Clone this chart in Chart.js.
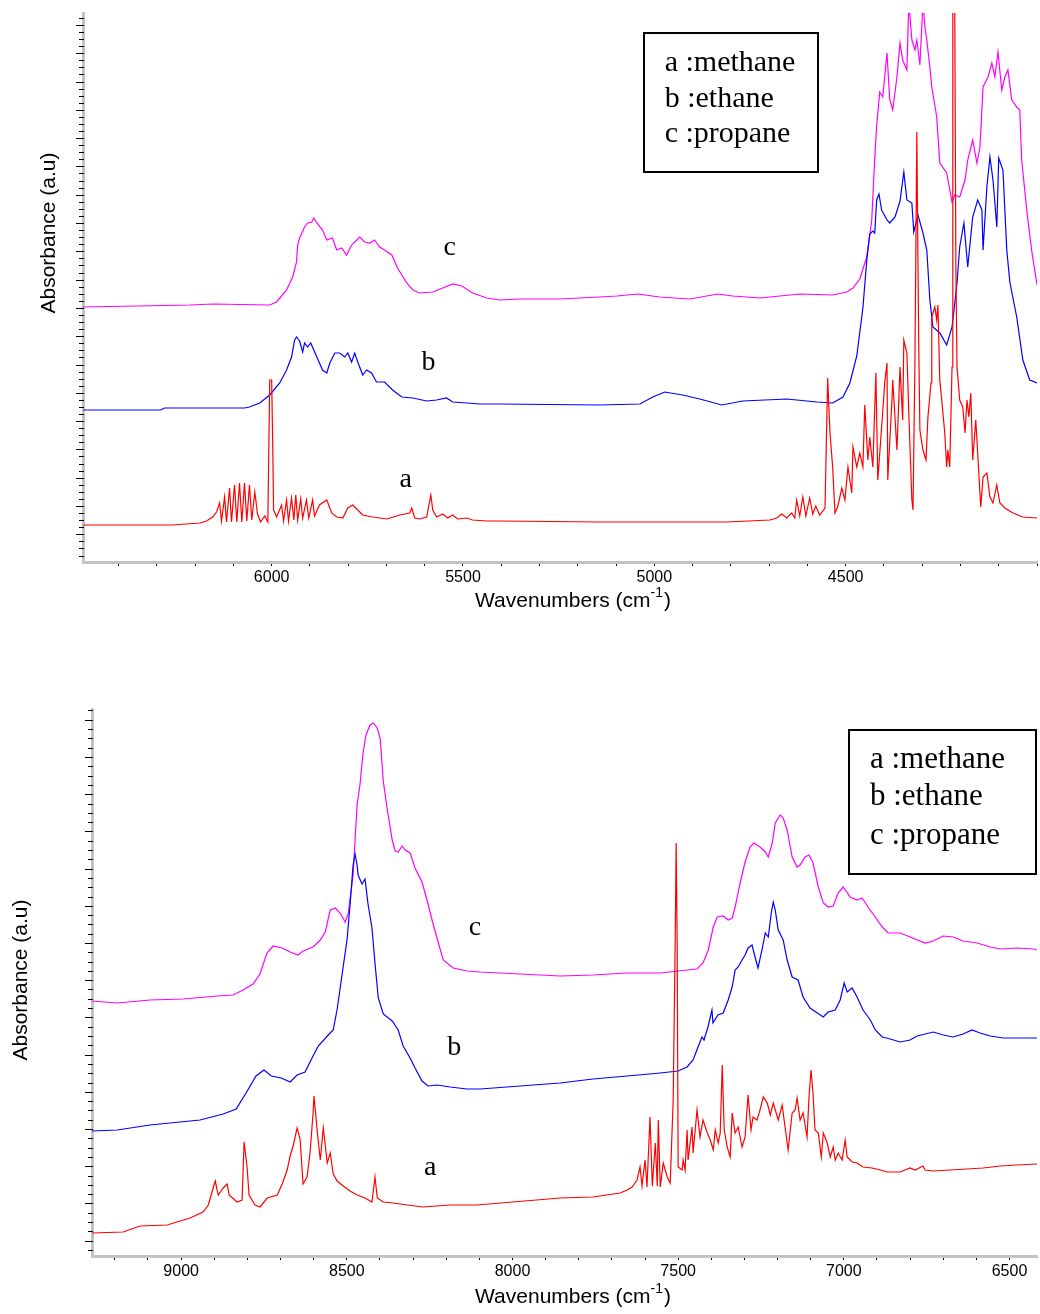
<!DOCTYPE html>
<html>
<head>
<meta charset="utf-8">
<script src="https://cdn.jsdelivr.net/npm/chart.js@4/dist/chart.umd.min.js"></script>
<style>
  html, body { margin: 0; padding: 0; background: #fff; }
  #wrap { position: relative; width: 1040px; height: 1314px; }
  #topBox { position: absolute; left: 0; top: 0; }
  #bottomBox { position: absolute; left: 0; top: 650px; }
</style>
</head>
<body>
<div id="wrap">
  <div id="topBox"><canvas id="chartTop" width="1040" height="650"></canvas></div>
  <div id="bottomBox"><canvas id="chartBottom" width="1040" height="664"></canvas></div>
</div>
<script>
// wavenumbers (cm-1) and absorbance (a.u)

// ---- upper panel, 6500 - 4000 cm-1 ----
const topMethaneX = [
  6494, 6259, 6188, 6170, 6154, 6144, 6136, 6131, 6123, 6118,
  6110, 6105, 6097, 6091, 6084, 6078, 6071, 6065, 6058, 6052,
  6044, 6037, 6029, 6018, 6010, 6005, 6000, 5997, 5995, 5987,
  5974, 5969, 5961, 5956, 5948, 5942, 5937, 5932, 5924, 5919,
  5909, 5903, 5893, 5888, 5875, 5856, 5843, 5830, 5814, 5801,
  5788, 5775, 5762, 5736, 5699, 5665, 5639, 5634, 5626, 5613,
  5595, 5584, 5579, 5569, 5553, 5540, 5527, 5514, 5490, 5475,
  5438, 5404, 5143, 4811, 4698, 4680, 4667, 4654, 4641, 4633,
  4628, 4620, 4612, 4604, 4594, 4586, 4578, 4568, 4554, 4547,
  4541, 4534, 4528, 4521, 4510, 4502, 4494, 4484, 4481, 4471,
  4463, 4455, 4450, 4442, 4437, 4429, 4421, 4416, 4406, 4398,
  4392, 4390, 4379, 4377, 4366, 4358, 4351, 4348, 4340, 4335,
  4327, 4324, 4319, 4314, 4311, 4309, 4306, 4298, 4290, 4285,
  4277, 4275, 4267, 4262, 4259, 4254, 4249, 4241, 4236, 4233,
  4228, 4222, 4220, 4215, 4212, 4209, 4202, 4194, 4188, 4183,
  4178, 4173, 4168, 4160, 4155, 4147, 4141, 4131, 4123, 4115,
  4105, 4097, 4084, 4063, 4037, 4000
];
const topMethaneY = [
  0.37, 0.37, 0.39, 0.41, 0.45, 0.50, 0.59, 0.41, 0.65, 0.40,
  0.74, 0.40, 0.77, 0.40, 0.79, 0.40, 0.79, 0.41, 0.77, 0.42,
  0.70, 0.48, 0.40, 0.46, 0.40, 1.82, 1.82, 1.12, 0.52, 0.45,
  0.57, 0.41, 0.62, 0.41, 0.64, 0.42, 0.67, 0.42, 0.63, 0.44,
  0.62, 0.44, 0.62, 0.46, 0.57, 0.62, 0.49, 0.45, 0.44, 0.54,
  0.57, 0.52, 0.47, 0.45, 0.43, 0.47, 0.49, 0.54, 0.44, 0.43,
  0.45, 0.67, 0.52, 0.45, 0.48, 0.44, 0.47, 0.43, 0.44, 0.42,
  0.41, 0.41, 0.40, 0.40, 0.42, 0.44, 0.48, 0.44, 0.49, 0.44,
  0.62, 0.46, 0.65, 0.46, 0.64, 0.48, 0.56, 0.47, 0.54, 1.84,
  1.29, 0.95, 0.49, 0.55, 0.74, 0.62, 0.95, 0.69, 1.15, 0.95,
  1.09, 0.95, 1.57, 1.02, 1.25, 0.95, 1.89, 0.82, 1.35, 1.79,
  1.99, 0.82, 1.62, 1.82, 1.12, 1.95, 1.42, 2.22, 2.09, 1.49,
  0.62, 0.52, 1.99, 4.30, 2.95, 2.15, 1.32, 1.12, 1.02, 1.45,
  1.79, 2.45, 2.55, 2.42, 2.57, 1.82, 1.62, 1.29, 0.95, 1.12,
  0.95, 1.95, 5.60, 5.60, 2.95, 1.95, 1.62, 1.55, 1.29, 1.62,
  1.45, 1.69, 1.02, 1.42, 1.09, 0.55, 0.85, 0.89, 0.65, 0.59,
  0.77, 0.59, 0.54, 0.49, 0.45, 0.44
];

const topEthaneX = [
  6494, 6290, 6280, 6071, 6058, 6031, 6005, 5979, 5961, 5948,
  5940, 5935, 5927, 5919, 5914, 5906, 5898, 5882, 5867, 5856,
  5848, 5835, 5822, 5809, 5801, 5791, 5783, 5775, 5762, 5752,
  5739, 5726, 5705, 5684, 5660, 5631, 5595, 5569, 5543, 5527,
  5490, 5456, 5404, 5143, 5038, 5004, 4973, 4926, 4881, 4824,
  4769, 4654, 4575, 4534, 4507, 4489, 4471, 4455, 4445, 4437,
  4429, 4424, 4419, 4413, 4406, 4392, 4385, 4371, 4358, 4348,
  4340, 4327, 4322, 4311, 4298, 4288, 4280, 4272, 4254, 4236,
  4222, 4209, 4202, 4191, 4181, 4168, 4155, 4144, 4141, 4131,
  4123, 4115, 4105, 4100, 4089, 4079, 4071, 4053, 4037, 4019,
  4000
];
const topEthaneY = [
  1.52, 1.52, 1.54, 1.54, 1.55, 1.59, 1.67, 1.79, 1.92, 2.05,
  2.22, 2.25, 2.21, 2.10, 2.19, 2.15, 2.19, 2.05, 1.92, 1.89,
  1.99, 2.09, 2.09, 2.05, 2.09, 2.00, 2.09, 2.00, 1.87, 1.92,
  1.89, 1.80, 1.80, 1.72, 1.65, 1.64, 1.61, 1.62, 1.64, 1.60,
  1.59, 1.58, 1.58, 1.57, 1.58, 1.65, 1.70, 1.67, 1.63, 1.57,
  1.61, 1.63, 1.60, 1.59, 1.65, 1.79, 2.06, 2.54, 3.01, 3.28,
  3.31, 3.29, 3.62, 3.68, 3.52, 3.42, 3.39, 3.45, 3.61, 3.90,
  3.62, 3.59, 3.30, 3.47, 3.29, 3.12, 2.62, 2.35, 2.29, 2.17,
  2.35, 2.79, 3.15, 3.39, 2.95, 3.45, 3.62, 3.52, 3.12, 3.75,
  4.05, 3.82, 3.35, 4.04, 3.92, 3.12, 2.80, 2.45, 2.02, 1.82,
  1.79
];

const topPropaneX = [
  6494, 6214, 6154, 6005, 5987, 5961, 5945, 5935, 5932, 5927,
  5914, 5906, 5895, 5890, 5882, 5867, 5856, 5841, 5830, 5817,
  5804, 5791, 5770, 5757, 5744, 5731, 5718, 5705, 5686, 5671,
  5647, 5631, 5613, 5579, 5553, 5527, 5503, 5475, 5438, 5404,
  5352, 5247, 5143, 5098, 5043, 4986, 4907, 4834, 4795, 4724,
  4620, 4534, 4497, 4481, 4463, 4445, 4432, 4424, 4419, 4411,
  4403, 4392, 4385, 4377, 4366, 4358, 4351, 4340, 4335, 4327,
  4319, 4314, 4306, 4298, 4293, 4288, 4280, 4275, 4262, 4254,
  4236, 4222, 4215, 4202, 4188, 4181, 4168, 4157, 4149, 4141,
  4128, 4118, 4110, 4102, 4092, 4084, 4076, 4066, 4053, 4045,
  4040, 4026, 4013, 4000
];
const topPropaneY = [
  2.55, 2.57, 2.58, 2.57, 2.60, 2.72, 2.85, 3.00, 3.17, 3.24,
  3.35, 3.39, 3.40, 3.44, 3.39, 3.32, 3.22, 3.24, 3.12, 3.14,
  3.07, 3.17, 3.25, 3.20, 3.19, 3.22, 3.15, 3.12, 3.07, 2.94,
  2.79, 2.72, 2.69, 2.70, 2.74, 2.78, 2.76, 2.69, 2.64, 2.62,
  2.63, 2.63, 2.65, 2.66, 2.68, 2.65, 2.63, 2.68, 2.66, 2.64,
  2.68, 2.67, 2.70, 2.74, 2.83, 3.05, 3.41, 4.04, 4.36, 4.70,
  4.65, 5.09, 4.63, 4.52, 4.85, 5.19, 5.02, 4.92, 5.60, 5.22,
  5.12, 5.22, 4.97, 5.60, 5.35, 5.22, 4.95, 4.75, 4.45, 3.99,
  3.89, 3.60, 3.67, 3.65, 3.82, 4.02, 4.22, 3.99, 4.15, 4.75,
  4.85, 4.99, 4.85, 5.10, 4.72, 4.85, 4.92, 4.62, 4.55, 4.52,
  4.02, 3.49, 3.09, 2.77
];

// ---- lower panel, 9270 - 6420 cm-1 ----
const bottomMethaneX = [
  9269, 9175, 9124, 9042, 9003, 8973, 8934, 8918, 8906, 8897,
  8888, 8873, 8861, 8855, 8831, 8816, 8810, 8801, 8795, 8777,
  8762, 8740, 8710, 8695, 8680, 8671, 8662, 8650, 8641, 8632,
  8620, 8611, 8602, 8599, 8589, 8580, 8571, 8559, 8550, 8541,
  8529, 8511, 8490, 8469, 8445, 8424, 8415, 8408, 8390, 8360,
  8318, 8270, 8188, 8107, 7856, 7757, 7675, 7654, 7639, 7624,
  7615, 7609, 7600, 7594, 7585, 7578, 7569, 7563, 7560, 7554,
  7545, 7533, 7524, 7515, 7509, 7506, 7503, 7500, 7488, 7485,
  7479, 7473, 7470, 7458, 7455, 7443, 7434, 7425, 7412, 7403,
  7394, 7388, 7379, 7373, 7367, 7361, 7352, 7343, 7337, 7328,
  7319, 7307, 7298, 7289, 7280, 7274, 7262, 7253, 7243, 7231,
  7222, 7213, 7198, 7186, 7177, 7168, 7156, 7147, 7141, 7132,
  7123, 7111, 7105, 7099, 7093, 7087, 7077, 7068, 7062, 7050,
  7041, 7032, 7026, 7017, 7005, 6996, 6990, 6975, 6960, 6942,
  6915, 6890, 6869, 6830, 6800, 6785, 6761, 6755, 6730, 6679,
  6628, 6580, 6528, 6477, 6417
];
const bottomMethaneY = [
  0.23, 0.24, 0.30, 0.31, 0.35, 0.38, 0.44, 0.51, 0.65, 0.75,
  0.61, 0.68, 0.72, 0.61, 0.54, 0.56, 1.14, 0.89, 0.61, 0.51,
  0.49, 0.58, 0.61, 0.72, 0.86, 1.00, 1.10, 1.28, 1.17, 0.72,
  0.79, 1.03, 1.42, 1.60, 1.24, 0.96, 1.28, 0.93, 1.03, 0.82,
  0.75, 0.70, 0.65, 0.61, 0.58, 0.54, 0.79, 0.58, 0.54, 0.53,
  0.51, 0.49, 0.51, 0.51, 0.58, 0.59, 0.63, 0.66, 0.69, 0.76,
  0.89, 0.70, 0.96, 0.69, 1.39, 0.70, 1.13, 0.70, 1.36, 0.69,
  0.93, 0.79, 0.73, 1.56, 3.13, 4.13, 3.13, 0.89, 0.86, 0.96,
  0.86, 1.26, 0.96, 1.29, 1.03, 1.46, 1.19, 1.36, 1.23, 1.16,
  1.06, 1.26, 1.13, 1.23, 1.91, 1.26, 1.09, 0.99, 1.43, 1.23,
  1.29, 1.09, 1.19, 1.61, 1.26, 1.39, 1.36, 1.46, 1.59, 1.53,
  1.41, 1.53, 1.36, 1.51, 1.28, 1.06, 1.43, 1.46, 1.58, 1.36,
  1.43, 1.19, 1.59, 1.86, 1.63, 1.26, 1.23, 0.99, 1.23, 1.13,
  0.99, 1.09, 0.96, 1.03, 0.96, 1.16, 0.99, 0.94, 0.93, 0.89,
  0.88, 0.86, 0.84, 0.84, 0.88, 0.86, 0.90, 0.86, 0.85, 0.86,
  0.87, 0.88, 0.90, 0.91, 0.92
];

const bottomEthaneX = [
  9269, 9193, 9094, 8973, 8943, 8873, 8834, 8804, 8774, 8750,
  8728, 8698, 8671, 8650, 8626, 8605, 8586, 8556, 8541, 8529,
  8514, 8499, 8490, 8481, 8475, 8469, 8466, 8454, 8445, 8436,
  8424, 8415, 8405, 8390, 8363, 8345, 8330, 8309, 8294, 8273,
  8255, 8227, 8188, 8137, 8098, 7856, 7757, 7654, 7554, 7500,
  7473, 7455, 7440, 7428, 7422, 7410, 7398, 7395, 7380, 7364,
  7349, 7337, 7328, 7319, 7307, 7298, 7289, 7277, 7268, 7259,
  7247, 7237, 7228, 7219, 7213, 7207, 7198, 7183, 7171, 7156,
  7138, 7123, 7102, 7080, 7062, 7047, 7026, 7011, 6999, 6990,
  6975, 6960, 6942, 6920, 6905, 6884, 6860, 6830, 6800, 6779,
  6730, 6700, 6670, 6640, 6613, 6589, 6558, 6519, 6468, 6417
];
const bottomEthaneY = [
  1.25, 1.26, 1.31, 1.35, 1.36, 1.42, 1.47, 1.63, 1.80, 1.86,
  1.80, 1.78, 1.74, 1.81, 1.84, 1.98, 2.10, 2.21, 2.26, 2.47,
  2.82, 3.17, 3.52, 3.91, 4.02, 3.91, 3.81, 3.72, 3.77, 3.52,
  3.28, 2.93, 2.58, 2.42, 2.35, 2.26, 2.10, 1.98, 1.88, 1.75,
  1.70, 1.71, 1.69, 1.67, 1.67, 1.73, 1.77, 1.80, 1.83, 1.85,
  1.89, 1.96, 2.09, 2.19, 2.16, 2.29, 2.46, 2.33, 2.41, 2.43,
  2.56, 2.69, 2.86, 2.89, 2.96, 3.01, 3.08, 3.11, 2.99, 2.88,
  3.06, 3.23, 3.19, 3.43, 3.54, 3.46, 3.26, 3.16, 2.96, 2.79,
  2.76, 2.59, 2.48, 2.43, 2.39, 2.44, 2.46, 2.56, 2.73, 2.64,
  2.68, 2.59, 2.46, 2.36, 2.26, 2.19, 2.17, 2.14, 2.16, 2.20,
  2.24, 2.21, 2.19, 2.22, 2.26, 2.23, 2.20, 2.18, 2.18, 2.18
];

const bottomPropaneX = [
  9269, 9193, 9094, 8994, 8891, 8843, 8813, 8783, 8762, 8741,
  8722, 8695, 8671, 8647, 8632, 8602, 8580, 8565, 8550, 8535,
  8520, 8505, 8496, 8481, 8469, 8460, 8451, 8442, 8430, 8420,
  8408, 8399, 8390, 8378, 8363, 8354, 8345, 8333, 8324, 8309,
  8294, 8273, 8258, 8242, 8227, 8209, 8179, 8137, 8098, 7856,
  7757, 7654, 7554, 7473, 7443, 7425, 7409, 7394, 7382, 7364,
  7349, 7337, 7328, 7313, 7298, 7283, 7271, 7253, 7237, 7228,
  7216, 7207, 7192, 7183, 7171, 7156, 7141, 7132, 7117, 7105,
  7093, 7077, 7062, 7047, 7032, 7017, 7002, 6981, 6960, 6945,
  6927, 6905, 6884, 6866, 6830, 6800, 6755, 6730, 6700, 6670,
  6640, 6598, 6558, 6528, 6477, 6429, 6417
];
const bottomPropaneY = [
  2.55, 2.53, 2.56, 2.57, 2.60, 2.61, 2.66, 2.72, 2.82, 3.03,
  3.10, 3.08, 3.04, 3.01, 3.05, 3.09, 3.16, 3.24, 3.46, 3.48,
  3.43, 3.34, 3.42, 3.81, 4.51, 4.72, 5.03, 5.21, 5.31, 5.33,
  5.28, 5.17, 4.75, 4.47, 4.16, 4.05, 4.04, 4.10, 4.06, 4.03,
  3.88, 3.74, 3.56, 3.35, 3.17, 2.96, 2.88, 2.85, 2.84, 2.80,
  2.81, 2.83, 2.83, 2.86, 2.87, 2.93, 3.06, 3.29, 3.39, 3.40,
  3.36, 3.38, 3.49, 3.73, 3.94, 4.09, 4.13, 4.09, 4.04, 3.99,
  4.13, 4.33, 4.41, 4.38, 4.26, 3.99, 3.89, 3.91, 3.99, 4.01,
  3.93, 3.69, 3.53, 3.49, 3.50, 3.63, 3.69, 3.59, 3.56, 3.58,
  3.49, 3.39, 3.29, 3.23, 3.23, 3.19, 3.13, 3.15, 3.20, 3.19,
  3.15, 3.13, 3.09, 3.07, 3.08, 3.07, 3.06
];

const topTickLabels = [6000, 5500, 5000, 4500];
const bottomTickLabels = [9000, 8500, 8000, 7500, 7000, 6500];
const legendLines = ['a :methane', 'b :ethane', 'c :propane'];
const curveLetters = ['a', 'b', 'c'];

const SANS = '"Liberation Sans", Arial, sans-serif';
const SERIF = '"Liberation Serif", "Times New Roman", serif';

function points(xs, ys) {
  return xs.map(function (x, i) { return { x: x, y: ys[i] }; });
}

function spectra(methane, ethane, propane) {
  const sets = [
    { label: 'methane', data: methane, borderColor: '#ff0000' },
    { label: 'ethane', data: ethane, borderColor: '#0000ff' },
    { label: 'propane', data: propane, borderColor: '#ff00ff' }
  ];
  return sets.map(function (d) {
    d.showLine = true;
    d.borderWidth = 1.2;
    d.pointRadius = 0;
    d.tension = 0;
    d.fill = false;
    return d;
  });
}

// tick marks of the absorbance axis, titles, curve letters and the legend box
const decor = {
  id: 'decor',
  afterDraw(chart, args, o) {
    const ctx = chart.ctx, a = chart.chartArea;
    const sx = chart.scales.x, sy = chart.scales.y;
    ctx.save();

    ctx.strokeStyle = '#000';
    ctx.lineWidth = 1;
    const minor = o.majorStep / 4;
    for (let k = Math.ceil((sy.min - o.majorStart) / minor); o.majorStart + k * minor <= sy.max; k++) {
      const py = Math.round(sy.getPixelForValue(o.majorStart + k * minor)) + 0.5;
      const len = (k % 4 === 0) ? 6 : 3;
      ctx.beginPath();
      ctx.moveTo(a.left - len - 1, py);
      ctx.lineTo(a.left + 1, py);
      ctx.stroke();
    }

    ctx.fillStyle = '#000';
    ctx.font = '21px ' + SANS;
    ctx.textAlign = 'center';
    ctx.textBaseline = 'middle';
    ctx.save();
    ctx.translate(o.yTitle[0], o.yTitle[1]);
    ctx.rotate(-Math.PI / 2);
    ctx.fillText('Absorbance (a.u)', 0, 0);
    ctx.restore();

    // Wavenumbers (cm-1) with the -1 raised
    ctx.textAlign = 'left';
    ctx.textBaseline = 'alphabetic';
    const main = 'Wavenumbers (cm', sup = '-1', close = ')';
    ctx.font = '21px ' + SANS;
    const w1 = ctx.measureText(main).width, w3 = ctx.measureText(close).width;
    ctx.font = '14px ' + SANS;
    const w2 = ctx.measureText(sup).width + 1;
    const x0 = o.xTitle[0] - (w1 + w2 + w3) / 2;
    ctx.font = '21px ' + SANS;
    ctx.fillText(main, x0, o.xTitle[1]);
    ctx.fillText(close, x0 + w1 + w2, o.xTitle[1]);
    ctx.font = '14px ' + SANS;
    ctx.fillText(sup, x0 + w1, o.xTitle[1] - 10);

    ctx.font = '28px ' + SERIF;
    ctx.textAlign = 'center';
    ctx.textBaseline = 'middle';
    o.letters.forEach(function (p, i) {
      ctx.fillText(curveLetters[i], sx.getPixelForValue(p[0]), sy.getPixelForValue(p[1]));
    });

    const b = o.legend;
    const bx1 = sx.getPixelForValue(b.x[0]), bx2 = sx.getPixelForValue(b.x[1]);
    const by1 = sy.getPixelForValue(b.y[0]), by2 = sy.getPixelForValue(b.y[1]);
    ctx.lineWidth = 2;
    ctx.strokeRect(Math.round(bx1), Math.round(by1), Math.round(bx2 - bx1), Math.round(by2 - by1));
    ctx.font = b.size + 'px ' + SERIF;
    ctx.textAlign = 'left';
    ctx.textBaseline = 'alphabetic';
    legendLines.forEach(function (t, i) {
      ctx.fillText(t, sx.getPixelForValue(b.textX), sy.getPixelForValue(b.base[i]));
    });

    ctx.restore();
  }
};

function makeChart(id, sets, xr, labels, yMax, geo, deco) {
  return new Chart(document.getElementById(id), {
    type: 'scatter',
    data: { datasets: sets },
    plugins: [decor],
    options: {
      responsive: false,
      animation: false,
      events: [],
      layout: { padding: { left: 0, top: geo.top, right: geo.right, bottom: 0 } },
      plugins: { legend: { display: false }, tooltip: { enabled: false }, decor: deco },
      scales: {
        x: {
          type: 'linear',
          reverse: true,
          min: xr[0],
          max: xr[1],
          afterFit: function (s) { s.height = geo.xHeight; },
          // one tick every 100 cm-1, labelled every 500
          afterBuildTicks: function (s) {
            const t = [];
            for (let v = Math.ceil(s.min / 100) * 100; v <= s.max; v += 100) t.push({ value: v });
            s.ticks = t;
          },
          border: { display: true, color: '#c4c4c4', width: 3 },
          grid: { display: true, drawOnChartArea: false, drawTicks: true, tickLength: 4, tickColor: '#000', tickWidth: 1 },
          ticks: {
            autoSkip: false,
            maxRotation: 0,
            padding: 2,
            color: '#000',
            font: { family: SANS, size: 16 },
            callback: function (v) { return labels.indexOf(v) >= 0 ? String(v) : ''; }
          }
        },
        y: {
          min: 0,
          max: yMax,
          afterFit: function (s) { s.width = geo.yWidth; },
          border: { display: true, color: '#c4c4c4', width: 3 },
          grid: { display: false },
          ticks: { display: false }
        }
      }
    }
  });
}

makeChart('chartTop',
  spectra(points(topMethaneX, topMethaneY), points(topEthaneX, topEthaneY), points(topPropaneX, topPropaneY)),
  [4000, 6493], topTickLabels, 5.49,
  { top: 13, right: 3, xHeight: 88, yWidth: 83 },
  {
    majorStart: 0.277, majorStep: 0.283,
    yTitle: [49, 233], xTitle: [573, 607],
    letters: [[5650, 0.82], [5590, 1.99], [5535, 3.14]],
    legend: { x: [5028, 4573], y: [5.29, 3.90], textX: 4973, base: [4.91, 4.55, 4.20], size: 30 }
  });

makeChart('chartBottom',
  spectra(points(bottomMethaneX, bottomMethaneY), points(bottomEthaneX, bottomEthaneY), points(bottomPropaneX, bottomPropaneY)),
  [6417, 9269], bottomTickLabels, 5.47,
  { top: 59, right: 3, xHeight: 58, yWidth: 92 },
  {
    majorStart: 0.154, majorStep: 0.372,
    yTitle: [21, 330], xTitle: [573, 653],
    letters: [[8248, 0.88], [8176, 2.08], [8113, 3.28]],
    legend: { x: [6984, 6420], y: [5.26, 3.82], textX: 6921, base: [4.88, 4.51, 4.12], size: 31 }
  });
</script>
</body>
</html>
